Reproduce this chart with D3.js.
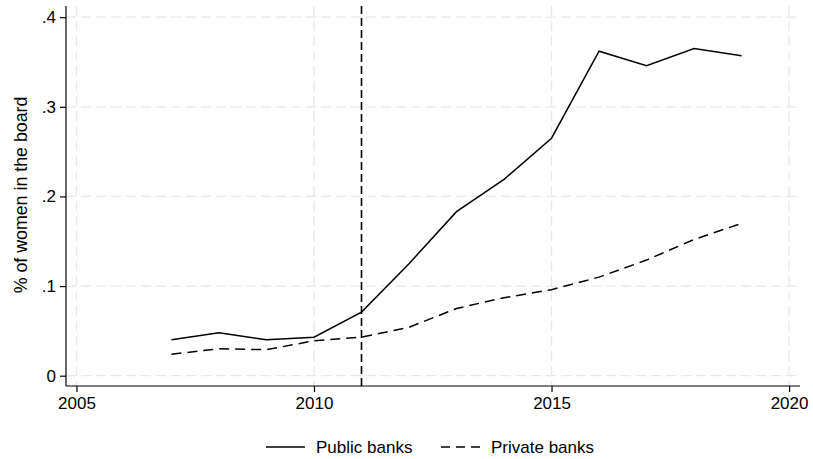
<!DOCTYPE html>
<html lang="en">

<head>
  <meta charset="utf-8">
  <title> Women on bank boards </title>
  <script src="https://d3js.org/d3.v7.min.js"></script>
  <style>
    body {
      margin: 0;
      background: #fff;
      font-family: "Liberation Sans", Arial, sans-serif;
    }

    .grid line {
      stroke: #e8e8e8;
      stroke-width: 1.3;
      stroke-dasharray: 10 5;
    }
  </style>
</head>

<body>
  <script>
    // data
    var years = [2007, 2008, 2009, 2010, 2011, 2012, 2013, 2014, 2015, 2016, 2017, 2018, 2019];
    var publicBanks = [0.040, 0.048, 0.040, 0.043, 0.071, 0.125, 0.183, 0.219, 0.265, 0.362, 0.346, 0.365, 0.357];
    var privateBanks = [0.024, 0.030, 0.029, 0.039, 0.043, 0.054, 0.075, 0.087, 0.096, 0.110, 0.129, 0.152, 0.170];
    var xTicks = [2005, 2010, 2015, 2020];
    var yTicks = [0, 0.1, 0.2, 0.3, 0.4];
    var yTickLabels = ["0", ".1", ".2", ".3", ".4"];
    var reformYear = 2011;
    var seriesNames = ["Public banks", "Private banks"];

    var width = 813, height = 459;
    var plotLeft = 66, plotRight = 800, plotTop = 6, plotBottom = 386;

    var svg = d3.select("body")
      .append("svg")
      .attr("width", width)
      .attr("height", height);

    var x = d3.scaleLinear()
      .domain([2004.78, 2020.23])
      .range([plotLeft, plotRight]);

    var y = d3.scaleLinear()
      .domain([-0.0115, 0.4125])
      .range([plotBottom, plotTop]);

    // grid lines
    svg.append("g").attr("class", "grid")
      .selectAll("line")
      .data(yTicks)
      .enter().append("line")
      .attr("x1", plotLeft).attr("x2", plotRight)
      .attr("y1", function(d) { return y(d); })
      .attr("y2", function(d) { return y(d); });

    svg.append("g").attr("class", "grid")
      .selectAll("line")
      .data(xTicks)
      .enter().append("line")
      .attr("y1", plotTop).attr("y2", plotBottom)
      .attr("x1", function(d) { return x(d); })
      .attr("x2", function(d) { return x(d); });

    // axes
    var xAxis = d3.axisBottom(x)
      .tickValues(xTicks)
      .tickFormat(d3.format("d"))
      .tickSize(6)
      .tickPadding(5);

    var yAxis = d3.axisLeft(y)
      .tickValues(yTicks)
      .tickFormat(function(d, i) { return yTickLabels[i]; })
      .tickSize(6)
      .tickPadding(4);

    var gx = svg.append("g")
      .attr("transform", "translate(0," + plotBottom + ")")
      .call(xAxis);
    gx.select(".domain").attr("d", "M" + plotLeft + ",0H" + plotRight);

    var gy = svg.append("g")
      .attr("transform", "translate(" + plotLeft + ",0)")
      .call(yAxis);
    gy.select(".domain").attr("d", "M0," + plotTop + "V" + plotBottom);

    svg.selectAll(".tick text")
      .attr("font-family", "Liberation Sans, Arial, sans-serif")
      .attr("font-size", 17)
      .attr("fill", "#000");
    svg.selectAll(".domain, .tick line")
      .attr("stroke", "#000")
      .attr("stroke-width", 1.2);

    // y axis title
    svg.append("text")
      .attr("transform", "translate(27,195) rotate(-90)")
      .attr("text-anchor", "middle")
      .attr("font-size", 17.8)
      .text("% of women in the board");

    // reform year marker
    svg.append("line")
      .attr("x1", x(reformYear)).attr("x2", x(reformYear))
      .attr("y1", plotTop).attr("y2", plotBottom)
      .attr("stroke", "#000")
      .attr("stroke-width", 1.6)
      .attr("stroke-dasharray", "8 4");

    // series lines
    var line = d3.line()
      .x(function(d) { return x(d[0]); })
      .y(function(d) { return y(d[1]); });

    var series = [
      { name: seriesNames[0], values: d3.zip(years, publicBanks), dash: null },
      { name: seriesNames[1], values: d3.zip(years, privateBanks), dash: "10 6" }
    ];

    svg.selectAll("path.series")
      .data(series)
      .enter().append("path")
      .attr("class", "series")
      .attr("d", function(d) { return line(d.values); })
      .attr("fill", "none")
      .attr("stroke", "#000")
      .attr("stroke-width", 1.5)
      .attr("stroke-dasharray", function(d) { return d.dash; });

    // legend
    var legendX = [266, 441];
    var legend = svg.selectAll("g.legend")
      .data(series)
      .enter().append("g")
      .attr("class", "legend")
      .attr("transform", function(d, i) { return "translate(" + legendX[i] + ",447)"; });

    legend.append("line")
      .attr("x1", 0).attr("x2", 39)
      .attr("stroke", "#000")
      .attr("stroke-width", 1.5)
      .attr("stroke-dasharray", function(d) { return d.dash ? "9 6" : null; });

    legend.append("text")
      .attr("x", 50)
      .attr("dy", "0.35em")
      .attr("font-size", 17)
      .text(function(d) { return d.name; });
  </script>
</body>

</html>
